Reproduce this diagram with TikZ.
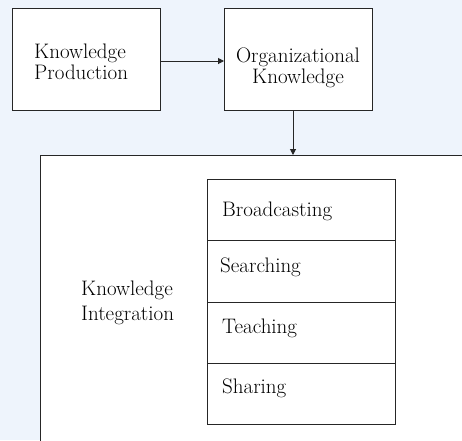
\documentclass[tikz,border=0pt]{standalone}
\usetikzlibrary{arrows.meta}
\definecolor{bgblue}{HTML}{EEF4FC}
\definecolor{linec}{HTML}{262626}
\tikzset{
  box/.style={draw=linec, line width=1pt, fill=white},
  lbl/.style={font=\fontsize{21}{21.5}\selectfont, align=center, inner sep=0pt},
  cell/.style={font=\fontsize{21}{25}\selectfont, inner sep=0pt, anchor=base west},
  conn/.style={draw=linec, line width=1pt, -{Triangle[length=6pt,width=6pt]}}
}
\begin{document}
\begin{tikzpicture}[x=1pt,y=-1pt]
\useasboundingbox (0,0) rectangle (462,440);
\fill[bgblue] (0,0) rectangle (462,440);
% big box (clipped at right and bottom)
\begin{scope}
\clip (0,0) rectangle (462,440);
\draw[box] (40,155) rectangle (480,460);
\end{scope}
\coordinate (bigtop) at (293,155);
% top boxes
\draw[box] (12,8) rectangle (160,110);
\draw[box] (224,8) rectangle (372,110);
\node[lbl, align=left, anchor=west] (kp) at (34,62) {Knowledge\\Production};
\node[lbl] (ok) at (298,68) {Organizational\\Knowledge};
\coordinate (kpE) at (160,61);
\coordinate (okW) at (224,61);
\coordinate (okS) at (293,110);
\draw[conn] (kpE) -- (okW);
\draw[conn] (okS) -- (bigtop);
% inner stack
\draw[box] (207,179) rectangle (395,240);
\draw[box] (207,240) rectangle (395,302);
\draw[box] (207,302) rectangle (395,363);
\draw[box] (207,363) rectangle (395,424);
\node[cell] (b) at (222,216) {Broadcasting};
\node[cell] (s) at (220,272) {Searching};
\node[cell] (t) at (222,333) {Teaching};
\node[cell] (sh) at (222,393) {Sharing};
\node[cell, align=left, anchor=west] (ki) at (81,303) {Knowledge\\Integration};
\end{tikzpicture}
\end{document}
